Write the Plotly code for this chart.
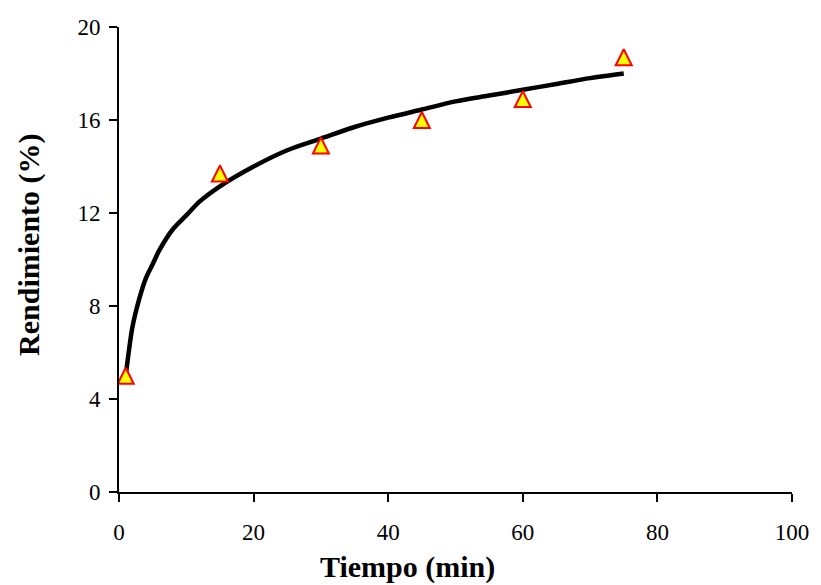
import plotly.graph_objects as go

# Experimental data
tiempo = [1, 15, 30, 45, 60, 75]
rendimiento = [5.0, 13.7, 14.9, 16.0, 16.9, 18.7]

# Trend curve
curva_x = [1, 2, 3, 4, 5, 6, 8, 10, 12, 15, 20, 25, 30, 35, 40, 45, 50, 55, 60, 65, 70, 75]
curva_y = [5.0, 7.1, 8.3, 9.2, 9.8, 10.4, 11.3, 11.9, 12.5, 13.15, 14.0, 14.7, 15.2,
           15.7, 16.1, 16.45, 16.8, 17.05, 17.3, 17.55, 17.8, 18.0]

x_ticks = [0, 20, 40, 60, 80, 100]
y_ticks = [0, 4, 8, 12, 16, 20]

font_family = "Liberation Serif, Times New Roman, serif"

W, H = 821, 585
L, T = 119, 27
R = W - 799
B = H - 492
pw, ph = W - L - R, H - T - B

MS = 16  # marker size

fig = go.Figure()
fig.add_trace(go.Scatter(
    x=curva_x, y=curva_y, mode="lines",
    line=dict(color="black", width=4.5, shape="spline", smoothing=0.8),
    showlegend=False, hoverinfo="skip"))
fig.add_trace(go.Scatter(
    x=tiempo, y=rendimiento, mode="markers",
    marker=dict(symbol="arrow-down", size=MS, angle=180, standoff=MS / 2,
                color="#FFFF00", line=dict(color="#FF0000", width=2)),
    showlegend=False))

fig.update_layout(
    width=W, height=H,
    margin=dict(l=L, r=R, t=T, b=B, pad=0),
    paper_bgcolor="white", plot_bgcolor="white",
    font=dict(family=font_family, size=22, color="black"),
    xaxis=dict(range=[0, 100], tickvals=x_ticks, ticks="outside", ticklen=8,
               tickwidth=2, tickcolor="black", showline=True, linecolor="black",
               linewidth=2, showgrid=False, zeroline=False,
               ticklabelstandoff=10, ticklabeloverflow="allow",
               tickfont=dict(family=font_family, size=23)),
    yaxis=dict(range=[0, 20], tickvals=y_ticks, ticks="outside", ticklen=8,
               tickwidth=2, tickcolor="black", showline=True, linecolor="black",
               linewidth=2, showgrid=False, zeroline=False,
               ticklabelstandoff=4, ticklabeloverflow="allow",
               tickfont=dict(family=font_family, size=23)),
    annotations=[
        dict(text="<b>Tiempo (min)</b>", xref="paper", yref="paper",
             x=(410 - 119) / pw, y=-(567 - 492) / ph, showarrow=False,
             xanchor="center", yanchor="middle",
             font=dict(family=font_family, size=30)),
        dict(text="<b>Rendimiento (%)</b>", xref="paper", yref="paper",
             x=-(119 - 28) / pw, y=(492 - 245) / ph, showarrow=False,
             textangle=-90, xanchor="center", yanchor="middle",
             font=dict(family=font_family, size=30)),
    ],
)

fig.write_html("out.html", config={"displayModeBar": False},
               post_script="document.body.style.margin='0';document.body.style.overflow='hidden';")
